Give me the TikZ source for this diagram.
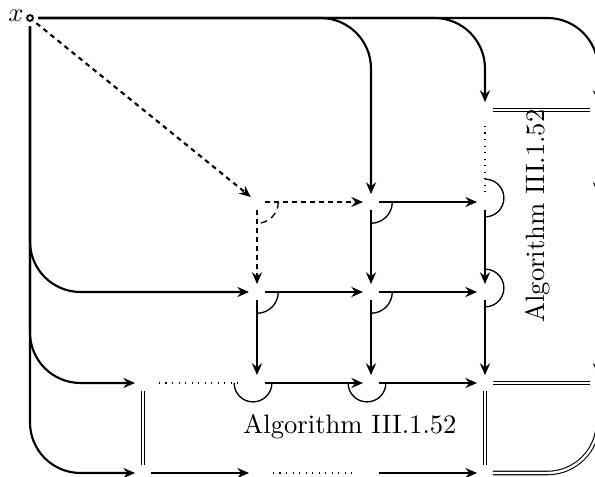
\documentclass[tikz,border=0pt]{standalone}
\usetikzlibrary{arrows.meta}
\begin{document}
\begin{tikzpicture}[x=0.3757pt,y=-0.3757pt,
  gp/.style={circle,inner sep=0pt,minimum size=5.6pt},
  ar/.style={line width=0.8pt,-{Stealth[length=4.4pt,width=3.8pt,inset=1.5pt]}},
  dar/.style={ar,dash pattern=on 1.8pt off 1.6pt},
  dotl/.style={line width=0.45pt,dotted,shorten <=3pt,shorten >=3pt},
  dbl/.style={line width=0.4pt,double,double distance=0.9pt},
  ang/.style={line width=0.5pt},
  rc/.style={rounded corners=19pt}
]
\useasboundingbox (0,0) rectangle (595,477);
\node[circle,draw,line width=0.7pt,inner sep=0pt,minimum size=2.2pt,outer sep=2pt] (n00) at (30,18) {};
\node (xl) at (16,16) {$x$};
\foreach \c/\cx in {1/143,2/257,3/371,4/485,5/598}
  \foreach \r/\ry in {1/110,2/202,3/292,4/383,5/473}
    \node[gp] (n\c\r) at (\cx,\ry) {};
% top branches
\draw[ar,rc] (n00) -| (n32);
\draw[ar,rc] (n00) -| (n41);
\draw[ar,rc] (n00) -| (n51);
% left branches
\draw[ar,rc] (n00) |- (n23);
\draw[ar,rc] (n00) |- (n14);
\draw[ar,rc] (n00) |- (n15);
% dashed part
\draw[dar] (n00) -- (n22);
\draw[dar] (n22) -- (n32);
\draw[dar] (n22) -- (n23);
\draw[ang,dash pattern=on 2.5pt off 1.8pt] ([xshift=8pt]n22.center) arc[start angle=0,end angle=-90,radius=8pt];
% row 2
\draw[ar] (n32) -- (n42);
\draw[ang] ([xshift=8pt]n32.center) arc[start angle=0,end angle=-90,radius=8pt];
\draw[dotl,shorten >=0.5pt] (n41) -- (n42);
\draw[dbl] (n41) -- (n51);
\draw[ang] ([yshift=8.6pt]n42.center) arc[start angle=90,end angle=-90,radius=7.1pt];
% verticals
\draw[ar] (n32) -- (n33);
\draw[ar] (n42) -- (n43);
\draw[ar] (n23) -- (n24);
\draw[ar] (n33) -- (n34);
\draw[ar] (n43) -- (n44);
% row 3
\draw[ar] (n23) -- (n33);
\draw[ar] (n33) -- (n43);
\draw[ang] ([xshift=8pt]n23.center) arc[start angle=0,end angle=-90,radius=8pt];
\draw[ang] ([xshift=8pt]n33.center) arc[start angle=0,end angle=-90,radius=8pt];
\draw[ang] ([yshift=8.6pt]n43.center) arc[start angle=90,end angle=-90,radius=7.1pt];
% row 4
\draw[dotl] (n14) -- (n24);
\draw[ar] (n24) -- (n34);
\draw[ar] (n34) -- (n44);
\draw[dbl] (n44) -- (n54);
\draw[ang] ([xshift=-8.6pt]n24.center) arc[start angle=180,end angle=360,radius=7.1pt];
\draw[ang] ([xshift=-8.6pt]n34.center) arc[start angle=180,end angle=360,radius=7.1pt];
\draw[dbl] (n14) -- (n15);
\draw[dbl] (n44) -- (n45);
% row 5
\draw[ar] (n15) -- (n25);
\draw[dotl] (n25) -- (n35);
\draw[ar] (n35) -- (n45);
\draw[dbl,rc] (n45) -| (n54);
% column 5
\draw[ar] (n51) -- (n52);
\draw[dotl] (n52) -- (n53);
\draw[ar] (n53) -- (n54);
% labels
\node (algh) at (350,427) {Algorithm III.1.52};
\node[rotate=90] (algv) at (538,216) {Algorithm III.1.52};
\end{tikzpicture}
\end{document}
